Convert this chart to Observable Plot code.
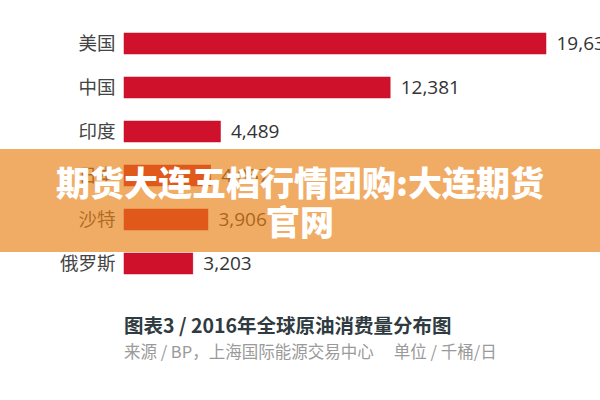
<!DOCTYPE html>
<html>
<head>
<meta charset="utf-8">
<script src="https://cdn.jsdelivr.net/npm/d3@7"></script>
<script src="https://cdn.jsdelivr.net/npm/@observablehq/plot@0.6"></script>
<style>
  html, body { margin: 0; padding: 0; background: #fff; width: 600px; height: 400px; overflow: hidden; }
  #wrap { position: relative; width: 600px; height: 400px; font-family: "Noto Sans CJK SC", "Open Sans", sans-serif; }
  #chart svg { display: block; overflow: visible; }
  #caption { position: absolute; left: 124px; top: 311px; white-space: nowrap; }
  #title { font-size: 19.5px; font-weight: 700; color: #2f3b40; line-height: 28px; }
  #source { font-size: 16.5px; color: #9a9a9a; line-height: 24px; }
  #banner { position: absolute; left: 0; top: 149px; width: 600px; height: 103px;
            background: rgba(232,128,20,0.66); color: #fff; font-weight: 900;
            font-size: 34px; line-height: 39px; text-align: center; padding-top: 13px; box-sizing: border-box;
            font-family: "Noto Sans CJK SC", sans-serif; white-space: nowrap; }
</style>
</head>
<body>
<div id="wrap">
  <div id="chart"></div>
  <div id="caption">
    <div id="title">图表3 / 2016年全球原油消费量分布图</div>
    <div id="source">来源 / BP，上海国际能源交易中心　 单位 / 千桶/日</div>
  </div>
  <div id="banner">期货大连五档行情团购:大连期货<br>官网</div>
</div>
<script>
const countries = ["美国", "中国", "印度", "日本", "沙特", "俄罗斯"];
const consumption = [19631, 12381, 4489, 4037, 3906, 3203];

const data = countries.map((c, i) => ({country: c, value: consumption[i]}));
const fmt = d3.format(",");

const chart = Plot.plot({
  width: 600,
  height: 300,
  marginLeft: 124,
  marginRight: 54,
  marginTop: 7,
  marginBottom: 1,
  style: {fontFamily: "'Noto Sans CJK SC', 'Open Sans', sans-serif", background: "transparent", overflow: "visible"},
  x: {domain: [0, 19631], axis: null},
  y: {domain: countries, range: [7, 299], padding: 0.53, label: null},
  marks: [
    Plot.barX(data, {x: "value", y: "country", fill: "#d0112b", stroke: "#c30f28", strokeWidth: 0.5}),
    Plot.text(data, {x: "value", y: "country", text: d => fmt(d.value), textAnchor: "start", dx: 10, fontSize: 19, fill: "#333", fontFamily: "'Open Sans', sans-serif"}),
    Plot.axisY({tickSize: 0, tickPadding: 9, fontSize: 18.5, color: "#444", label: null})
  ]
});
document.getElementById("chart").appendChild(chart);
</script>
</body>
</html>
